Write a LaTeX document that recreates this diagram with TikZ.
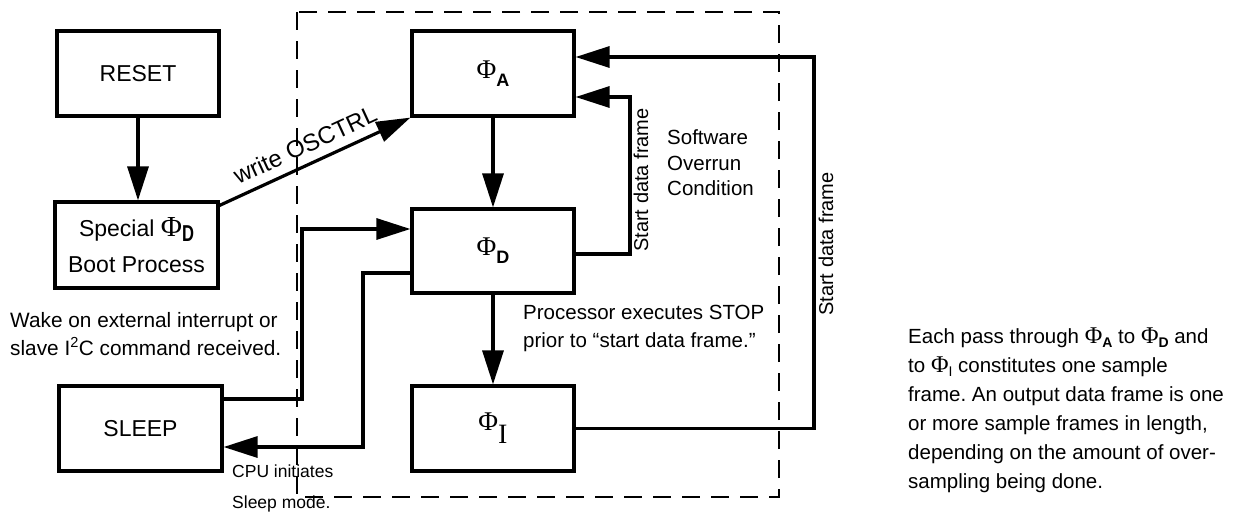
\documentclass[tikz,border=0pt]{standalone}
\usepackage{fontspec}
\setmainfont{Liberation Sans}
\newfontfamily\serifF{Liberation Serif}
\usetikzlibrary{arrows.meta}
% #1 size of Phi, #2 size of subscript, #3 lowering, #4 subscript
\newcommand{\PhiSub}[4]{{\fontsize{#1}{#1}\selectfont\serifF Φ}\raisebox{-#3}{\fontsize{#2}{#2}\selectfont #4}}
\newcommand{\tightls}{\lineskiplimit=-50pt\relax\frenchspacing}
\begin{document}
\begin{tikzpicture}[x=1pt,y=-1pt,
  box/.style={draw, line width=3.2pt, minimum width=162pt, minimum height=85pt, inner sep=0pt,
    font=\fontsize{23}{36}\selectfont\tightls, align=center},
  conn/.style={line width=3.2pt},
  arr/.style={conn, -{Triangle[length=34pt,width=21pt]}},
  lbl/.style={font=\fontsize{20.5}{28}\selectfont, align=left, inner sep=0pt, anchor=west},
  dashframe/.style={dash pattern=on 18pt off 11pt, line width=2pt}]
\useasboundingbox (0,0) rectangle (1238,515);
% dashed frame
\draw[dashframe] (297,12) rectangle (779,497);
% boxes
\node[box] (RS) at (138,73.5) {RESET};
\node[box, minimum width=163pt, minimum height=86pt] (SP) at (136.5,245)
  {Special \PhiSub{29}{23}{5pt}{\scalebox{0.72}[1]{\bfseries D}}\\Boot Process};
\node[box, minimum width=163pt] (SL) at (140.5,428.5) {SLEEP};
\node[box] (PA) at (493,73.5) {\PhiSub{27}{18}{8pt}{\bfseries A}};
\node[box, minimum height=84pt] (PD) at (493,251) {\PhiSub{27}{18}{8pt}{\bfseries D}};
\node[box] (PI) at (493,428.5) {\PhiSub{27}{28}{13pt}{\serifF I}};
% coordinates
\coordinate (c1) at (814,57);
\coordinate (c2) at (630,97);
\coordinate (w1) at (302,399);
\coordinate (w2) at (302,229);
\coordinate (s1) at (363,273);
\coordinate (s2) at (363,447);
% connectors
\draw[arr] (RS.south) -- (RS.south |- SP.north);
\draw[arr] ([yshift=-5pt]SP.north east) -- node[sloped, above=9pt, pos=0.49, inner sep=0pt,
  font=\fontsize{24}{24}\selectfont] (wo) {write OSCTRL} (PA.south west);
\draw[arr] (PA.south) -- (PD.north);
\draw[arr] (PD.south) -- (PI.north);
\draw[arr] (PI.east) -| (c1) -- (PA.east |- c1);
\draw[arr] ([yshift=-3pt]PD.east) -| (c2) -- (PA.east |- c2);
\draw[arr] (SL.east |- w1) -- (w1) -- (w2) -- (PD.west |- w2);
\draw[arr] (PD.west |- s1) -- (s1) -- (s2) -- (SL.east |- s2);
% labels
\node[font=\fontsize{20}{20}\selectfont, rotate=90, inner sep=0pt] (sdf1) at (641,180) {Start data frame};
\node[font=\fontsize{20}{20}\selectfont, rotate=90, inner sep=0pt] (sdf2) at (826,244) {Start data frame};
\node[lbl, font=\fontsize{20.5}{25.5}\selectfont] (sw) at (667,163) {Software\\Overrun\\Condition};
\node[lbl, font=\fontsize{20.8}{28}\selectfont] (wk) at (10,334) {Wake on external interrupt or\\slave I\textsuperscript{2}C command received.};
\node[lbl] (pr) at (523,328) {Processor executes STOP\\prior to “start data frame.”};
\node[lbl, font=\fontsize{17.5}{31}\selectfont] (cpu) at (232,488.5) {CPU initiates\\Sleep mode.};
\node[lbl, font=\fontsize{20.5}{29}\selectfont\tightls] (ep) at (908,410)
  {Each pass through \PhiSub{24}{14}{4pt}{\bfseries A} to \PhiSub{24}{14}{4pt}{\bfseries D} and\\
   to \PhiSub{24}{14}{4pt}{I} constitutes one sample\\
   frame. An output data frame is one\\
   or more sample frames in length,\\
   depending on the amount of over-\\
   sampling being done.};
\end{tikzpicture}
\end{document}
